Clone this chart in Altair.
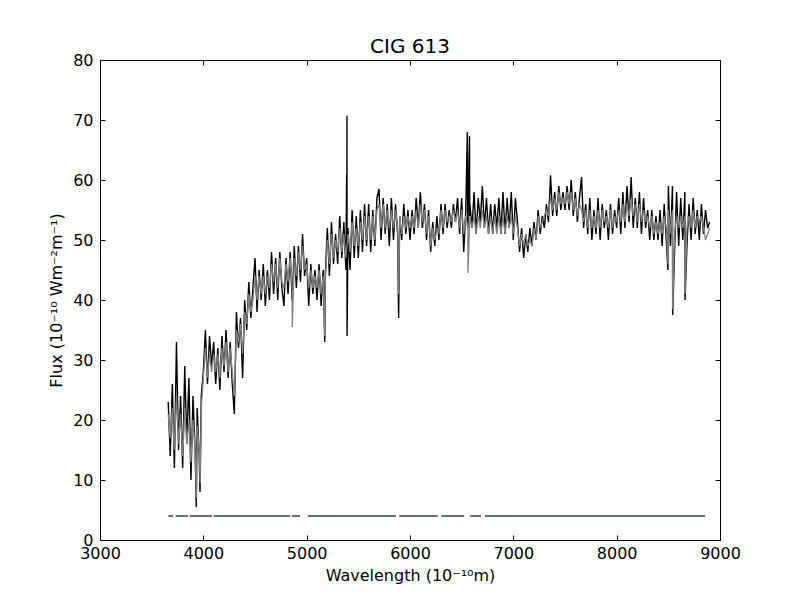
import altair as alt
import pandas as pd

# Wavelength grid of the spectrum (Angstrom, 20 A sampling)
wave = list(range(3660, 8901, 20))

# Observed spectrum (black): first 2 values (3660, 3680), then one row per 100 A block
black = [
    23, 14,
    26, 12, 33, 15, 24,          # 3700
    12, 29, 16, 27, 10,          # 3800
    24, 15, 22, 14, 24,          # 3900
    28, 35, 26, 34, 29,          # 4000
    33, 26, 32, 25, 34,          # 4100
    28, 35, 27, 33, 26,          # 4200
    21, 38, 32, 37, 27,          # 4300
    40, 35, 43, 37, 42,          # 4400
    47, 38, 45, 40, 46,          # 4500
    39, 45, 40, 48, 41,          # 4600
    47, 40, 48, 42, 39,          # 4700
    47, 41, 48, 40, 49,          # 4800
    42, 49, 43, 51, 44,          # 4900
    47, 39, 46, 41, 45,          # 5000
    40, 46, 39, 45, 44,          # 5100
    52, 44, 53, 46, 51,          # 5200
    46, 54, 47, 53, 45,          # 5300
    52, 45, 55, 47, 54,          # 5400
    47, 55, 48, 56, 49,          # 5500
    56, 48, 55, 49, 57,          # 5600
    58.5, 50, 57, 51, 56,        # 5700
    49, 57, 50, 56, 51,          # 5800
    54, 50, 56, 51, 55,          # 5900
    50, 55, 51, 57, 52,          # 6000
    58, 52, 56, 50, 55,          # 6100
    48, 53, 49, 54, 50,          # 6200
    56, 51, 56, 52, 55,          # 6300
    52, 56, 53, 57, 51,          # 6400
    57, 48, 55, 52, 56,          # 6500
    52, 58, 51, 57, 53,          # 6600
    59, 52, 57, 51, 56,          # 6700
    51, 56, 52, 57, 51,          # 6800
    58, 51, 57, 52, 58,          # 6900
    50, 57, 53, 48, 52,          # 7000
    47, 51, 48, 52, 49,          # 7100
    53, 50, 55, 51, 54,          # 7200
    52, 56, 53, 60.8, 54,        # 7300
    58, 54, 59, 55, 58,          # 7400
    55, 59, 55, 60, 54,          # 7500
    58, 53, 57, 60.5, 52,        # 7600
    56, 51, 57, 50, 55,          # 7700
    51, 57, 50, 56, 52,          # 7800
    55, 50, 56, 51, 55,          # 7900
    52, 57, 51, 58, 52,          # 8000
    59, 53, 60.5, 52, 57,        # 8100
    52, 58, 51, 57, 52,          # 8200
    55, 50, 55, 50, 54,          # 8300
    50, 55, 49, 56, 50,          # 8400
    59, 49, 59, 48, 58,          # 8500
    49, 57, 50, 58, 49,          # 8600
    56, 50, 57, 51, 55,          # 8700
    50, 56, 51, 55, 52,          # 8800
    53,
]

# Model / fit spectrum (grey)
gray = [
    21, 17,
    22, 15, 24, 16, 21,          # 3700
    14, 22, 16, 20, 13,          # 3800
    20, 15, 19, 15, 22,          # 3900
    27, 32, 27, 31, 28,          # 4000
    31, 28, 31, 27, 32,          # 4100
    29, 33, 28, 32, 28,          # 4200
    24, 35, 33, 36, 31,          # 4300
    38, 36, 41, 38, 40,          # 4400
    44, 40, 44, 41, 44,          # 4500
    41, 44, 42, 46, 43,          # 4600
    46, 42, 47, 43, 42,          # 4700
    46, 43, 47, 42, 47,          # 4800
    44, 48, 45, 49, 45,          # 4900
    46, 42, 45, 42, 44,          # 5000
    42, 45, 41, 44, 43,          # 5100
    50, 46, 51, 47, 50,          # 5200
    48, 52, 48, 51, 47,          # 5300
    51, 48, 53, 49, 52,          # 5400
    49, 53, 50, 54, 50,          # 5500
    54, 50, 54, 50, 55,          # 5600
    56, 52, 56, 52, 55,          # 5700
    52, 55, 52, 55, 52,          # 5800
    54, 51, 54, 52, 54,          # 5900
    52, 54, 52, 55, 52,          # 6000
    56, 53, 55, 51, 54,          # 6100
    49, 52, 50, 52, 51,          # 6200
    55, 52, 55, 53, 54,          # 6300
    53, 55, 53, 55, 52,          # 6400
    55, 51, 54, 52, 54,          # 6500
    52, 54, 51, 54, 52,          # 6600
    55, 52, 54, 51, 54,          # 6700
    51, 54, 51, 54, 51,          # 6800
    54, 51, 54, 52, 54,          # 6900
    51, 54, 52, 49, 51,          # 7000
    49, 51, 49, 50, 49,          # 7100
    52, 50, 54, 52, 53,          # 7200
    54, 55, 54, 57, 55,          # 7300
    57, 55, 58, 56, 57,          # 7400
    56, 58, 56, 58, 55,          # 7500
    57, 54, 56, 55, 53,          # 7600
    55, 52, 55, 52, 54,          # 7700
    52, 55, 52, 55, 53,          # 7800
    54, 52, 55, 52, 54,          # 7900
    53, 55, 53, 56, 53,          # 8000
    56, 54, 57, 54, 56,          # 8100
    53, 56, 53, 55, 53,          # 8200
    54, 52, 54, 51, 53,          # 8300
    51, 53, 51, 54, 52,          # 8400
    55, 51, 55, 51, 54,          # 8500
    52, 54, 52, 54, 52,          # 8600
    54, 52, 55, 52, 54,          # 8700
    53, 54, 52, 50, 51,          # 8800
    52,
]

# Narrow features (absorption / emission lines) between grid points
black_extra_w = [3932, 3968, 4862, 5175, 5387, 5389, 5390, 5391, 5890,
                 6555, 6558, 6576, 6578, 8496, 8542, 8662]
black_extra_v = [5.5, 8, 40, 33, 61, 48, 70.7, 34, 37,
                 68, 53, 67.3, 54, 45, 37.5, 40]
gray_extra_w = [3933, 3969, 4861, 5175, 5890, 6561, 8497, 8542, 8662]
gray_extra_v = [7, 9.5, 35.5, 34, 41, 44.5, 46, 38.5, 41]

# Masked wavelength ranges drawn at the bottom
mask_start = [3661, 3732, 3868, 4100, 4857, 5011, 5896, 6304, 6582, 6725]
mask_end = [3707, 3850, 4082, 4839, 4936, 5864, 6268, 6525, 6686, 8857]
mask_level = 4

x_ticks = [3000, 4000, 5000, 6000, 7000, 8000, 9000]
y_ticks = [0, 10, 20, 30, 40, 50, 60, 70, 80]

assert len(black) == len(wave) and len(gray) == len(wave)

obs = pd.DataFrame({"w": wave + black_extra_w, "f": black + black_extra_v}).sort_values("w")
fit = pd.DataFrame({"w": wave + gray_extra_w, "f": gray + gray_extra_v}).sort_values("w")
mask = pd.DataFrame({"w1": mask_start, "w2": mask_end, "f": [mask_level] * len(mask_start)})

xscale = alt.Scale(domain=[3000, 9000], nice=False, zero=False)
yscale = alt.Scale(domain=[0, 80], nice=False, zero=False)

common = dict(
    grid=False, domain=False, tickColor="black", tickWidth=1, tickSize=5, offset=-5,
    labelFont="DejaVu Sans", labelFontSize=16, labelColor="black", labelFlush=False,
    titleFont="DejaVu Sans", titleFontSize=16, titleColor="black", titleFontWeight="normal",
)

x_bottom = alt.Axis(orient="bottom", values=x_ticks, format="d", labelPadding=5,
                    title="Wavelength (10⁻¹⁰m)", titlePadding=6, **common)
y_left = alt.Axis(orient="left", values=y_ticks, format="d", labelPadding=7,
                  title="Flux (10⁻¹⁰ Wm⁻²m⁻¹)", titlePadding=8, **common)
x_top = alt.Axis(orient="top", values=x_ticks, labels=False, title="", **common)
y_right = alt.Axis(orient="right", values=y_ticks, labels=False, title="", **common)

black_line = alt.Chart(obs).mark_line(color="black", strokeWidth=1.4).encode(
    x=alt.X("w:Q", scale=xscale, axis=x_bottom),
    y=alt.Y("f:Q", scale=yscale, axis=y_left),
)
gray_line = alt.Chart(fit).mark_line(color="#808080", strokeWidth=1.3).encode(
    x=alt.X("w:Q", scale=xscale, axis=x_top),
    y=alt.Y("f:Q", scale=yscale, axis=y_right),
)
mask_rules = alt.Chart(mask).mark_rule(color="#647079", strokeWidth=2).encode(
    x=alt.X("w1:Q", scale=xscale, axis=None),
    x2="w2:Q",
    y=alt.Y("f:Q", scale=yscale, axis=None),
)

chart = (
    alt.layer(black_line, gray_line, mask_rules)
    .resolve_axis(x="independent", y="independent")
    .properties(
        width=620, height=480,
        title=alt.TitleParams("CIG 613", font="DejaVu Sans", fontSize=20, fontWeight="normal",
                              color="black", offset=7, dy=28, baseline="alphabetic", frame="group"),
        autosize=alt.AutoSizeParams(type="none"),
        padding={"left": 92, "top": 52, "right": 72, "bottom": 52},
    )
    .configure_view(stroke="black", strokeWidth=1)
)

chart.save("out.html", embed_options={"renderer": "svg", "actions": False})
